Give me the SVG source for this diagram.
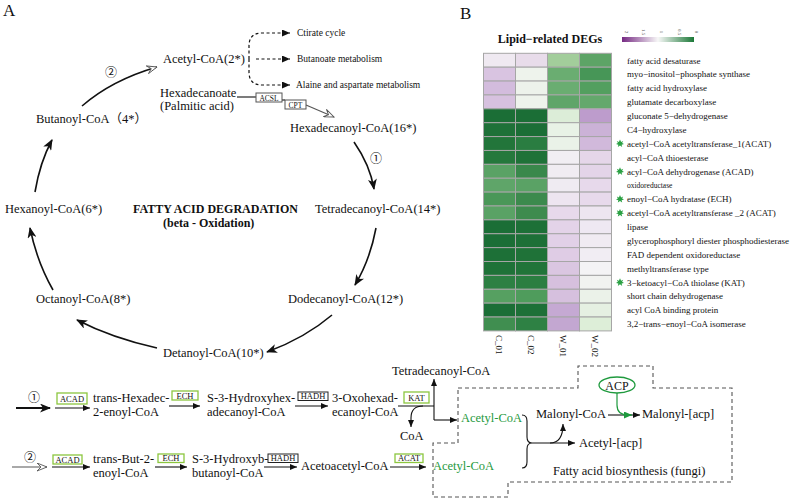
<svg xmlns="http://www.w3.org/2000/svg" width="791" height="500" viewBox="0 0 791 500">
<style>
text{font-family:"Liberation Serif","DejaVu Serif","Noto Sans CJK SC",serif;fill:#111}
.t{font-size:12.5px}
.b{font-size:12px;font-weight:bold}
.s{font-size:9.5px}
.h{font-size:9px}
.bx{font-size:8.5px;text-anchor:middle}
.g{fill:#1f9a3e}
.ln{fill:none;stroke:#111;stroke-width:1.1}
.cl{fill:none;stroke:#111;stroke-width:1.6}
.ds{fill:none;stroke:#111;stroke-width:1.2;stroke-dasharray:3 2.5}
.bd{fill:none;stroke:#555;stroke-width:1.1;stroke-dasharray:4 3}
.gb{fill:#fff;stroke:#8cc63f;stroke-width:1.3}
.kb{fill:#fff;stroke:#222;stroke-width:1}
.grb{fill:#fff;stroke:#555;stroke-width:1}
.cell{stroke:#a6a6a6;stroke-width:1}
.lg{font-size:5px;fill:#555;text-anchor:middle}
</style>
<defs>
<marker id="ab" markerUnits="userSpaceOnUse" markerWidth="11" markerHeight="9" refX="10" refY="4.5" orient="auto"><path d="M0,0 L11,4.5 L0,9 L3,4.5 z" fill="#111"/></marker>
<marker id="as" markerUnits="userSpaceOnUse" markerWidth="7" markerHeight="6" refX="7" refY="3" orient="auto"><path d="M0,0 L7,3 L0,6 z" fill="#111"/></marker>
<marker id="ad" markerUnits="userSpaceOnUse" markerWidth="8" markerHeight="7" refX="8" refY="3.5" orient="auto"><path d="M0,0 L8,3.5 L0,7 z" fill="#111"/></marker>
<marker id="ao" markerUnits="userSpaceOnUse" markerWidth="11" markerHeight="9" refX="10" refY="4.5" orient="auto"><path d="M0,0.5 L10,4.5 L0,8.5 L4,4.5 z" fill="#fff" stroke="#555" stroke-width="0.9"/></marker>
<marker id="ag" markerUnits="userSpaceOnUse" markerWidth="8" markerHeight="7" refX="8" refY="3.5" orient="auto"><path d="M0,0 L8,3.5 L0,7 z" fill="#1f9a3e"/></marker>
<linearGradient id="lgd" x1="0" x2="1" y1="0" y2="0"><stop offset="0" stop-color="#762a83"/><stop offset="0.5" stop-color="#f7f7f7"/><stop offset="1" stop-color="#1b7837"/></linearGradient>
<polygon id="star" points="0,-4 1.1,-1.6 3.2,-2.6 2.1,-0.5 4,0.6 1.6,1.2 2.2,3.6 0,2 -2.2,3.6 -1.6,1.2 -4,0.6 -2.1,-0.5 -3.2,-2.6 -1.1,-1.6" fill="#2aa043"/>
</defs>
<rect width="791" height="500" fill="#fff"/>
<text x="3" y="16" style="font-size:17px">A</text>
<text x="460" y="19" style="font-size:17px">B</text>

<g id="connectors">
<path class="cl" d="M82,106 Q112,80 157,67" marker-end="url(#ao)"/>
<path class="cl" d="M354,142 Q370,165 374,189" marker-end="url(#ab)"/>
<path class="cl" d="M376,228 Q370,260 355,285" marker-end="url(#ab)"/>
<path class="cl" d="M332,315 Q305,338 267,352" marker-end="url(#ab)"/>
<path class="cl" d="M157,348 Q112,338 77,320" marker-end="url(#ab)"/>
<path class="cl" d="M53,290 Q37,262 30,228" marker-end="url(#ab)"/>
<path class="cl" d="M35,192 Q40,162 52,140" marker-end="url(#ab)"/>
<path class="ds" d="M249,59 L249,46 Q249,33 262,33 L290,33" marker-end="url(#ad)"/>
<path class="ds" d="M256,59 L290,59" marker-end="url(#ad)"/>
<path class="ds" d="M249,59 L249,72 Q249,85 262,85 L290,85" marker-end="url(#ad)"/>
<path class="ln" d="M237,97 L256,97"/>
<path class="ln" d="M282,100 L285,100"/>
<path fill="none" stroke="#555" stroke-width="1.1" d="M306,105 L334,117" marker-end="url(#ao)"/>
<path fill="none" stroke="#111" stroke-width="1.8" d="M16,408 L50,408" marker-end="url(#ab)"/>
<path class="ln" d="M55,408 L90,408" marker-end="url(#as)"/>
<path class="ln" d="M169,406 L200,406" marker-end="url(#as)"/>
<path class="ln" d="M295,406 L328,406" marker-end="url(#as)"/>
<path fill="none" stroke="#555" stroke-width="1.1" d="M12,467 L47,467" marker-end="url(#ao)"/>
<path class="ln" d="M52,467 L90,467" marker-end="url(#as)"/>
<path class="ln" d="M155,467 L187,467" marker-end="url(#as)"/>
<path class="ln" d="M264,467 L297,467" marker-end="url(#as)"/>
<path class="ln" d="M390,467 L426,467" marker-end="url(#as)"/>
<path class="ln" d="M398,406 L434,406"/>
<path class="ln" d="M434,420 L434,379" marker-end="url(#as)"/>
<path class="ln" d="M434,420 L457,420" marker-end="url(#as)"/>
<path class="ln" d="M423,406 Q411,406 411,418 L411,427" marker-end="url(#as)"/>
<path class="ln" d="M522,415 Q527,415 527,421 L527,437 Q527,443 532,443 Q527,443 527,449 L527,462 Q527,468 522,468"/>
<path class="ln" d="M532,443 L575,443" marker-end="url(#as)"/>
<path class="ln" d="M550,443 Q563,443 563,424" marker-end="url(#as)"/>
<path class="ln" d="M608,415 L640,415" marker-end="url(#as)"/>
<path fill="none" stroke="#1f9a3e" stroke-width="1.2" d="M617,393 L617,405 Q617,415 628,415 L632,415" marker-end="url(#ag)"/>
<path class="bd" d="M458,388 L578,388 L578,366 L653,366 L653,388 L732,388 L732,482 L508,482 L508,497 L433,497 L433,443 L458,443 Z"/>
</g>

<g id="cycle">
<text class="t" x="163" y="63">Acetyl-CoA(2*)</text>
<text class="t" x="160" y="97">Hexadecanoate</text>
<text class="t" x="160" y="110">(Palmitic acid)</text>
<text class="t" x="290" y="132">Hexadecanoyl-CoA(16*)</text>
<text class="t" x="36" y="123">Butanoyl-CoA（4*）</text>
<text class="t" x="5" y="213">Hexanoyl-CoA(6*)</text>
<text class="b" x="133" y="213">FATTY ACID DEGRADATION</text>
<text class="b" x="163" y="227">(beta - Oxidation)</text>
<text class="t" x="315" y="213">Tetradecanoyl-CoA(14*)</text>
<text class="t" x="288" y="303">Dodecanoyl-CoA(12*)</text>
<text class="t" x="163" y="357">Detanoyl-CoA(10*)</text>
<text class="t" x="36" y="303">Octanoyl-CoA(8*)</text>
<text x="111" y="77" style="font-size:12px;text-anchor:middle">②</text>
<text x="376" y="163" style="font-size:12px;text-anchor:middle">①</text>
<text class="s" x="297" y="36">Ctirate cycle</text>
<text class="s" x="297" y="62">Butanoate metabolism</text>
<text class="s" x="296" y="88">Alaine and aspartate metabolism</text>
<g id="acsl"><rect class="grb" x="256" y="93" width="26" height="9"/><text class="bx" x="269" y="100.5" style="font-size:7.5px">ACSL</text></g>
<g id="cpt"><rect class="grb" x="285" y="100" width="21" height="9"/><text class="bx" x="295.5" y="107.5" style="font-size:7.5px">CPT</text></g>
</g>

<g id="pathway">
<text x="34" y="402" style="font-size:12px;text-anchor:middle">①</text>
<g id="acad1"><rect class="gb" x="57" y="393" width="30" height="11"/><text class="bx" x="72" y="401.5">ACAD</text></g>
<text class="t" x="93" y="402">trans-Hexadec-</text>
<text class="t" x="93" y="416">2-enoyl-CoA</text>
<g id="ech1"><rect class="gb" x="172" y="391" width="26" height="9"/><text class="bx" x="185" y="398.5">ECH</text></g>
<text class="t" x="207" y="402">S-3-Hydroxyhex-</text>
<text class="t" x="207" y="416">adecanoyl-CoA</text>
<g id="hadh1"><rect class="kb" x="298" y="392" width="30" height="8.5"/><text class="bx" x="313" y="399.3">HADH</text></g>
<text class="t" x="332" y="402">3-Oxohexad-</text>
<text class="t" x="332" y="416">ecanoyl-CoA</text>
<g id="kat"><rect class="gb" x="404" y="392" width="25" height="11"/><text class="bx" x="416.5" y="400.5">KAT</text></g>
<text class="t" x="392" y="375">Tetradecanoyl-CoA</text>
<text class="t" x="400" y="440">CoA</text>
<text class="t g" x="461" y="422">Acetyl-CoA</text>

<text x="30" y="462" style="font-size:12px;text-anchor:middle">②</text>
<g id="acad2"><rect class="gb" x="53" y="455" width="29" height="9"/><text class="bx" x="67.5" y="462.5">ACAD</text></g>
<text class="t" x="93" y="463">trans-But-2-</text>
<text class="t" x="93" y="477">enoyl-CoA</text>
<g id="ech2"><rect class="gb" x="158" y="454" width="26" height="8.5"/><text class="bx" x="171" y="461.3">ECH</text></g>
<text class="t" x="192" y="463">S-3-Hydroxyb-</text>
<text class="t" x="192" y="477">butanoyl-CoA</text>
<g id="hadh2"><rect class="kb" x="268" y="454" width="30" height="8.5"/><text class="bx" x="283" y="461.3">HADH</text></g>
<text class="t" x="301" y="470">Acetoacetyl-CoA</text>
<g id="acat"><rect class="gb" x="395" y="454" width="28" height="8.5"/><text class="bx" x="409" y="461.3">ACAT</text></g>
<text class="t g" x="433" y="470">Acetyl-CoA</text>

<text class="t" x="536" y="418">Malonyl-CoA</text>
<text class="t" x="642" y="418">Malonyl-[acp]</text>
<text class="t" x="579" y="447">Acetyl-[acp]</text>
<g id="acp"><ellipse cx="617" cy="385" rx="18" ry="8" fill="#fff" stroke="#1f9a3e" stroke-width="1.3"/><text x="617" y="389.5" style="font-size:12px;text-anchor:middle">ACP</text></g>
<text class="t" x="553" y="475">Fatty acid biosynthesis (fungi)</text>
</g>

<g id="heatmap">
<text x="550" y="43" style="font-size:12px;font-weight:bold;text-anchor:middle">Lipid−related DEGs</text>
<rect x="622" y="37" width="72" height="5" fill="url(#lgd)"/>
<text class="lg" transform="translate(625,32) rotate(90)">2</text>
<text class="lg" transform="translate(642,32) rotate(90)">1.5</text>
<text class="lg" transform="translate(660,32) rotate(90)">1</text>
<text class="lg" transform="translate(678,32) rotate(90)">0.5</text>
<text class="lg" transform="translate(695,32) rotate(90)">0</text>
<g class="cell">
<rect x="483.5" y="53.3" width="32" height="13.88" fill="#efe9f1"/><rect x="515.5" y="53.3" width="32" height="13.88" fill="#e8dcea"/><rect x="547.5" y="53.3" width="32" height="13.88" fill="#a2cd9b"/><rect x="579.5" y="53.3" width="32" height="13.88" fill="#5da466"/>
<rect x="483.5" y="67.18" width="32" height="13.88" fill="#d9c4e1"/><rect x="515.5" y="67.18" width="32" height="13.88" fill="#eef3ec"/><rect x="547.5" y="67.18" width="32" height="13.88" fill="#6aad71"/><rect x="579.5" y="67.18" width="32" height="13.88" fill="#479657"/>
<rect x="483.5" y="81.06" width="32" height="13.88" fill="#d3bcdd"/><rect x="515.5" y="81.06" width="32" height="13.88" fill="#edf2eb"/><rect x="547.5" y="81.06" width="32" height="13.88" fill="#6aad71"/><rect x="579.5" y="81.06" width="32" height="13.88" fill="#539f5f"/>
<rect x="483.5" y="94.94" width="32" height="13.88" fill="#d7c1df"/><rect x="515.5" y="94.94" width="32" height="13.88" fill="#eef3ec"/><rect x="547.5" y="94.94" width="32" height="13.88" fill="#5fa569"/><rect x="579.5" y="94.94" width="32" height="13.88" fill="#64a86c"/>
<rect x="483.5" y="108.82" width="32" height="13.88" fill="#1b6e36"/><rect x="515.5" y="108.82" width="32" height="13.88" fill="#1b6e36"/><rect x="547.5" y="108.82" width="32" height="13.88" fill="#dcedd8"/><rect x="579.5" y="108.82" width="32" height="13.88" fill="#bd9ccc"/>
<rect x="483.5" y="122.7" width="32" height="13.88" fill="#1e7138"/><rect x="515.5" y="122.7" width="32" height="13.88" fill="#1b6e36"/><rect x="547.5" y="122.7" width="32" height="13.88" fill="#e8f2e6"/><rect x="579.5" y="122.7" width="32" height="13.88" fill="#cbb2d7"/>
<rect x="483.5" y="136.58" width="32" height="13.88" fill="#22753a"/><rect x="515.5" y="136.58" width="32" height="13.88" fill="#2a7d41"/><rect x="547.5" y="136.58" width="32" height="13.88" fill="#eaf2e8"/><rect x="579.5" y="136.58" width="32" height="13.88" fill="#d1b9db"/>
<rect x="483.5" y="150.46" width="32" height="13.88" fill="#25783c"/><rect x="515.5" y="150.46" width="32" height="13.88" fill="#1f7238"/><rect x="547.5" y="150.46" width="32" height="13.88" fill="#f1eef3"/><rect x="579.5" y="150.46" width="32" height="13.88" fill="#e5d6e9"/>
<rect x="483.5" y="164.34" width="32" height="13.88" fill="#5aa265"/><rect x="515.5" y="164.34" width="32" height="13.88" fill="#39884b"/><rect x="547.5" y="164.34" width="32" height="13.88" fill="#f0ecf2"/><rect x="579.5" y="164.34" width="32" height="13.88" fill="#e3d4e8"/>
<rect x="483.5" y="178.22" width="32" height="13.88" fill="#5fa569"/><rect x="515.5" y="178.22" width="32" height="13.88" fill="#5aa265"/><rect x="547.5" y="178.22" width="32" height="13.88" fill="#efebf2"/><rect x="579.5" y="178.22" width="32" height="13.88" fill="#e7d9eb"/>
<rect x="483.5" y="192.1" width="32" height="13.88" fill="#4a9758"/><rect x="515.5" y="192.1" width="32" height="13.88" fill="#3c8a4d"/><rect x="547.5" y="192.1" width="32" height="13.88" fill="#ede5f0"/><rect x="579.5" y="192.1" width="32" height="13.88" fill="#e7d9eb"/>
<rect x="483.5" y="205.98" width="32" height="13.88" fill="#5aa265"/><rect x="515.5" y="205.98" width="32" height="13.88" fill="#3e8b4e"/><rect x="547.5" y="205.98" width="32" height="13.88" fill="#e7d9eb"/><rect x="579.5" y="205.98" width="32" height="13.88" fill="#ede5f0"/>
<rect x="483.5" y="219.86" width="32" height="13.88" fill="#1b6e36"/><rect x="515.5" y="219.86" width="32" height="13.88" fill="#1d7037"/><rect x="547.5" y="219.86" width="32" height="13.88" fill="#e3d3e8"/><rect x="579.5" y="219.86" width="32" height="13.88" fill="#eee8f2"/>
<rect x="483.5" y="233.74" width="32" height="13.88" fill="#1b6e36"/><rect x="515.5" y="233.74" width="32" height="13.88" fill="#1d7037"/><rect x="547.5" y="233.74" width="32" height="13.88" fill="#e1d0e7"/><rect x="579.5" y="233.74" width="32" height="13.88" fill="#f0ebf2"/>
<rect x="483.5" y="247.62" width="32" height="13.88" fill="#1d7037"/><rect x="515.5" y="247.62" width="32" height="13.88" fill="#1f7238"/><rect x="547.5" y="247.62" width="32" height="13.88" fill="#dfcce5"/><rect x="579.5" y="247.62" width="32" height="13.88" fill="#f1edf3"/>
<rect x="483.5" y="261.5" width="32" height="13.88" fill="#1f7238"/><rect x="515.5" y="261.5" width="32" height="13.88" fill="#217439"/><rect x="547.5" y="261.5" width="32" height="13.88" fill="#dac6e1"/><rect x="579.5" y="261.5" width="32" height="13.88" fill="#f4f3f5"/>
<rect x="483.5" y="275.38" width="32" height="13.88" fill="#2d8043"/><rect x="515.5" y="275.38" width="32" height="13.88" fill="#2b7e41"/><rect x="547.5" y="275.38" width="32" height="13.88" fill="#d6c0de"/><rect x="579.5" y="275.38" width="32" height="13.88" fill="#f1f2f0"/>
<rect x="483.5" y="289.26" width="32" height="13.88" fill="#56a061"/><rect x="515.5" y="289.26" width="32" height="13.88" fill="#4f9c5c"/><rect x="547.5" y="289.26" width="32" height="13.88" fill="#d6c0de"/><rect x="579.5" y="289.26" width="32" height="13.88" fill="#ebf2e9"/>
<rect x="483.5" y="303.14" width="32" height="13.88" fill="#1b6e36"/><rect x="515.5" y="303.14" width="32" height="13.88" fill="#1d7037"/><rect x="547.5" y="303.14" width="32" height="13.88" fill="#c5a9d3"/><rect x="579.5" y="303.14" width="32" height="13.88" fill="#e5f0e2"/>
<rect x="483.5" y="317.02" width="32" height="13.88" fill="#408e50"/><rect x="515.5" y="317.02" width="32" height="13.88" fill="#2e8144"/><rect x="547.5" y="317.02" width="32" height="13.88" fill="#c3a7d1"/><rect x="579.5" y="317.02" width="32" height="13.88" fill="#ddeed8"/>
</g>
<g class="h">
<text x="627" y="63.5">fatty acid desaturase</text>
<text x="627" y="77.4">myo−inositol−phosphate synthase</text>
<text x="627" y="91.3">fatty acid hydroxylase</text>
<text x="627" y="105.1">glutamate decarboxylase</text>
<text x="627" y="119">gluconate 5−dehydrogenase</text>
<text x="627" y="132.9">C4−hydroxylase</text>
<text x="627" y="146.8">acetyl−CoA acetyltransferase_1(ACAT)</text>
<text x="627" y="160.7">acyl−CoA thioesterase</text>
<text x="627" y="174.5">acyl−CoA dehydrogenase (ACAD)</text>
<text x="627" y="188.4" style="font-size:7.5px">oxidoreductase</text>
<text x="627" y="202.3">enoyl−CoA hydratase (ECH)</text>
<text x="627" y="216.2">acetyl−CoA acetyltransferase _2 (ACAT)</text>
<text x="627" y="230">lipase</text>
<text x="627" y="243.9">glycerophosphoryl diester phosphodiesterase</text>
<text x="627" y="257.8">FAD dependent oxidoreductase</text>
<text x="627" y="271.7">methyltransferase type</text>
<text x="627" y="285.6">3−ketoacyl−CoA thiolase (KAT)</text>
<text x="627" y="299.4">short chain dehydrogenase</text>
<text x="627" y="313.3">acyl CoA binding protein</text>
<text x="627" y="327.2">3,2−trans−enoyl−CoA isomerase</text>
</g>
<use href="#star" x="620" y="143.5"/>
<use href="#star" x="620" y="171.3"/>
<use href="#star" x="620" y="199"/>
<use href="#star" x="620" y="212.9"/>
<use href="#star" x="620" y="282.3"/>
<g class="h">
<text transform="translate(496,335) rotate(90)">C_01</text>
<text transform="translate(528,335) rotate(90)">C_02</text>
<text transform="translate(560,335) rotate(90)">W_01</text>
<text transform="translate(592,335) rotate(90)">W_02</text>
</g>
</g>
</svg>
